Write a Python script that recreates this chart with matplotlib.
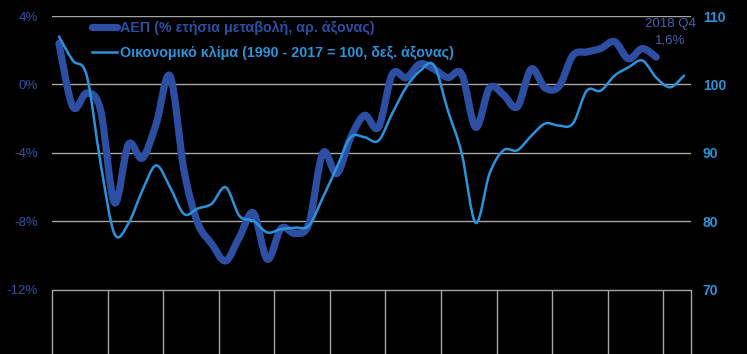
import matplotlib.pyplot as plt
from matplotlib.lines import Line2D
from matplotlib.path import Path
from matplotlib.patches import PathPatch

# quarterly axis: 2008 Q1 .. 2019 Q2
years = list(range(2008, 2020))
quarters = [f"{y} Q{q}" for y in years for q in range(1, 5)][:46]

# GDP, % y/y (left axis), 2008 Q1 .. 2018 Q4
gdp = [2.4, -1.3, -0.5, -1.5, -6.9, -3.5, -4.3, -2.3, 0.5, -5.0,
       -8.1, -9.3, -10.3, -8.9, -7.5, -10.2, -8.4, -8.7, -8.1, -4.0,
       -5.2, -3.1, -1.8, -2.5, 0.6, 0.4, 1.2, 0.9, 0.4, 0.6,
       -2.5, -0.2, -0.6, -1.3, 0.9, -0.2, -0.1, 1.7, 1.9, 2.1,
       2.5, 1.5, 2.1, 1.6]

# economic sentiment, 1990-2017 = 100 (right axis), 2008 Q1 .. 2019 Q2
climate = [107.0, 103.5, 101.3, 88.5, 78.2, 79.7, 84.5, 88.2, 85.0, 81.1,
           81.9, 82.6, 85.0, 80.8, 80.1, 78.4, 78.9, 79.1, 79.4, 83.5,
           87.9, 92.3, 92.3, 91.8, 95.8, 99.6, 102.0, 102.8, 96.2, 89.9,
           79.8, 87.0, 90.4, 90.4, 92.5, 94.3, 94.0, 94.3, 99.1, 99.1,
           101.3, 102.5, 103.5, 101.0, 99.6, 101.3]

gdp_label = "ΑΕΠ (% ετήσια μεταβολή, αρ. άξονας)"
climate_label = "Οικονομικό κλίμα (1990 - 2017 = 100, δεξ. άξονας)"

dark_blue = "#2d4fa3"
light_blue = "#2b93dc"
grid_grey = "#a6a6a6"


def smooth_line(ax, values, color, lw):
    """Excel-style smoothed line: cubic Bezier through every data point"""
    pts = list(zip(range(len(values)), values))
    verts = [pts[0]]
    codes = [Path.MOVETO]
    for i in range(len(pts) - 1):
        p0 = pts[max(i - 1, 0)]
        p1 = pts[i]
        p2 = pts[i + 1]
        p3 = pts[min(i + 2, len(pts) - 1)]
        c1 = (p1[0] + (p2[0] - p0[0]) / 6, p1[1] + (p2[1] - p0[1]) / 6)
        c2 = (p2[0] - (p3[0] - p1[0]) / 6, p2[1] - (p3[1] - p1[1]) / 6)
        verts += [c1, c2, p2]
        codes += [Path.CURVE4] * 3
    patch = PathPatch(Path(verts, codes), fill=False, edgecolor=color, lw=lw,
                      capstyle="round", joinstyle="round")
    ax.add_patch(patch)


plt.rcParams["font.family"] = ["Liberation Sans", "DejaVu Sans"]

fig = plt.figure(figsize=(7.47, 3.54), dpi=100, facecolor="black")
ax = fig.add_axes([0.0696, 0.1808, 0.8554, 0.774])
ax.set_facecolor("black")
ax2 = ax.twinx()

smooth_line(ax, gdp, dark_blue, 5.2)
smooth_line(ax2, climate, light_blue, 1.8)

ax.set_xlim(-0.5, len(quarters) - 0.5)
ax.set_ylim(-12, 4)
ax2.set_ylim(70, 110)

ax.set_yticks([4, 0, -4, -8, -12])
ax.set_yticklabels(["4%", "0%", "-4%", "-8%", "-12%"], color="#3352a5", fontsize=9.5)
ax.tick_params(axis="y", length=0, pad=10)
ax2.set_yticks([110, 100, 90, 80, 70])
ax2.set_yticklabels(["110", "100", "90", "80", "70"], color=light_blue,
                    fontsize=10, fontweight="bold")
ax2.tick_params(axis="y", length=0, pad=8.5)

# year boundaries as long ticks below the axis
bounds = [4 * k - 0.5 for k in range(12)] + [len(quarters) - 0.5]
ax.set_xticks(bounds)
ax.set_xticklabels([])
ax.tick_params(axis="x", direction="out", length=46, width=1, color=grid_grey)

for y in [4, 0, -4, -8]:
    ax.axhline(y, color=grid_grey, lw=1, zorder=0)

for a in (ax, ax2):
    for side in ("top", "left", "right", "bottom"):
        a.spines[side].set_visible(False)
ax.spines["bottom"].set_visible(True)
ax.spines["bottom"].set_color(grid_grey)
ax.spines["bottom"].set_linewidth(1)

handles = [Line2D([], [], color=dark_blue, lw=5.2, solid_capstyle="round"),
           Line2D([], [], color=light_blue, lw=1.8)]
leg = ax2.legend(handles, [gdp_label, climate_label], loc="upper left",
                 bbox_to_anchor=(0.042, 1.03), frameon=False,
                 handlelength=1.75, handletextpad=0.2, labelspacing=0.75,
                 prop={"weight": "bold", "size": 10.3})
for txt, c in zip(leg.get_texts(), [dark_blue, light_blue]):
    txt.set_color(c)

ax.annotate("2018 Q4\n1,6%", xy=(len(gdp) - 1, gdp[-1]), xytext=(44.0, 3.06),
            ha="center", va="center", color="#4163ad", fontsize=9.5,
            linespacing=1.45)

fig.savefig("out.png", dpi=100, facecolor="black")
